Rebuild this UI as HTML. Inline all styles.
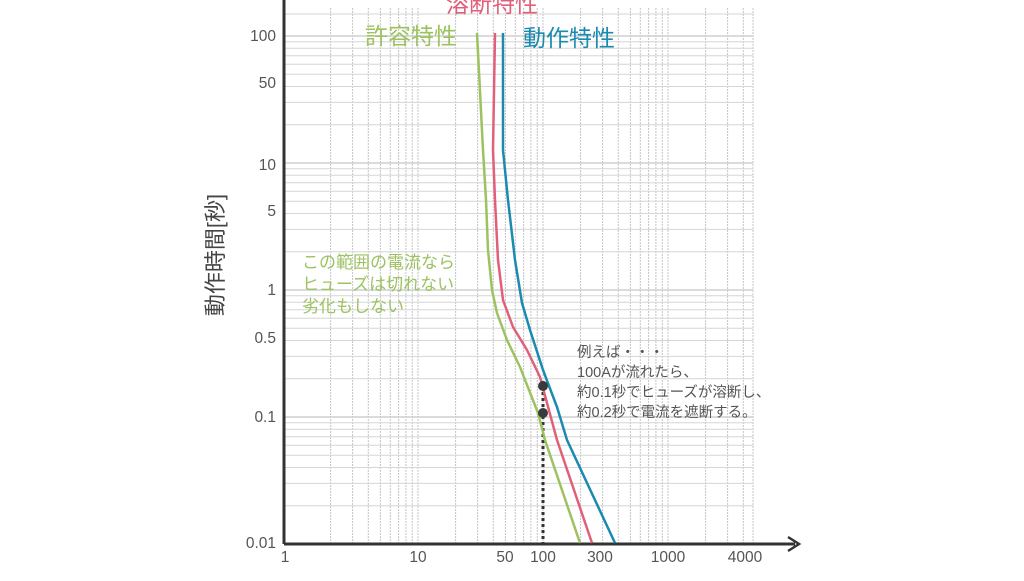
<!DOCTYPE html>
<html><head><meta charset="utf-8"><style>
html,body{margin:0;padding:0;background:#fff;}
svg text{font-family:"Liberation Sans","Noto Sans CJK JP",sans-serif;}
</style></head><body>
<svg width="1024" height="576" viewBox="0 0 1024 576" xmlns="http://www.w3.org/2000/svg">
<path d="M330.6,8V543M352.6,8V543M368.3,8V543M380.4,8V543M390.3,8V543M398.6,8V543M405.9,8V543M412.3,8V543M418,8V543
M455.6,8V543M477.6,8V543M493.3,8V543M505.4,8V543M515.3,8V543M523.6,8V543M530.9,8V543M537.3,8V543M543,8V543
M580.6,8V543M602.6,8V543M618.3,8V543M630.4,8V543M640.3,8V543M648.6,8V543M655.9,8V543M662.3,8V543M668,8V543
M705.6,8V543M727.6,8V543M743.3,8V543M753,8V543" stroke="#c4c4c4" stroke-width="1" stroke-dasharray="2,1" fill="none"/>
<path d="M284,505.8H753M284,483.4H753M284,467.5H753M284,455.2H753M284,445.2H753M284,436.7H753M284,429.3H753M284,422.8H753
M284,378.8H753M284,356.4H753M284,340.5H753M284,328.2H753M284,318.2H753M284,309.7H753M284,302.3H753M284,295.8H753
M284,251.8H753M284,229.4H753M284,213.5H753M284,201.2H753M284,191.2H753M284,182.7H753M284,175.3H753M284,168.8H753
M284,124.8H753M284,102.4H753M284,86.5H753M284,74.2H753M284,64.2H753M284,55.7H753M284,48.3H753M284,41.8H753
M284,14H753" stroke="#d6d6d6" stroke-width="1" fill="none"/>
<path d="M284,417H753M284,290H753M284,163H753M284,36H753" stroke="#cfcfcf" stroke-width="1.6" fill="none"/>
<line x1="284" y1="0" x2="284" y2="544" stroke="#333" stroke-width="3"/>
<line x1="284" y1="544" x2="795" y2="544" stroke="#333" stroke-width="3"/>
<polyline points="788,537 799,544 788,551" fill="none" stroke="#333" stroke-width="2.5"/>
<g font-size="15.5" fill="#555" text-anchor="end">
<text x="276" y="41">100</text><text x="276" y="88">50</text><text x="276" y="170">10</text>
<text x="276" y="216">5</text><text x="276" y="295">1</text><text x="276" y="343">0.5</text>
<text x="276" y="422">0.1</text><text x="276" y="548">0.01</text></g>
<g font-size="15.5" fill="#555" text-anchor="middle">
<text x="285" y="562">1</text><text x="418" y="562">10</text><text x="505" y="562">50</text>
<text x="543" y="562">100</text><text x="600" y="562">300</text><text x="668" y="562">1000</text><text x="745" y="562">4000</text></g>
<text transform="translate(223,255) rotate(-90)" font-size="22" fill="#444" text-anchor="middle">動作時間[秒]</text>
<line x1="543" y1="386" x2="543" y2="543" stroke="#333" stroke-width="3" stroke-dasharray="3,3"/>
<path d="M477,33 L483,150 L486,200 L488,250 L492,290 L497,313 L507,340 L520,367 L538,413 L545,440 L580,543" fill="none" stroke="#9dc260" stroke-width="2.5" stroke-linejoin="round"/>
<path d="M495,33 L493,150 L495,200 L498,260 L503,300 L513,327 L527,350 L540,377 L557,440 L592,543" fill="none" stroke="#e0607a" stroke-width="2.5" stroke-linejoin="round"/>
<path d="M503,33 L503,150 L508,200 L515,260 L522,303 L530,330 L543,370 L557,407 L567,440 L615,543" fill="none" stroke="#1b8ab0" stroke-width="2.5" stroke-linejoin="round"/>
<circle cx="543" cy="386" r="5" fill="#3a3a3a"/><circle cx="543" cy="413" r="5" fill="#3a3a3a"/>
<text x="446" y="12" font-size="23" fill="#e0607a">溶断特性</text>
<text x="365" y="44" font-size="23" fill="#9dc260">許容特性</text>
<text x="523" y="46" font-size="23" fill="#1b8ab0">動作特性</text>
<g font-size="17" fill="#9dc260"><text x="302" y="268">この範囲の電流なら</text><text x="302" y="290">ヒューズは切れない</text><text x="302" y="312">劣化もしない</text></g>
<g font-size="14.5" fill="#555"><text x="577" y="357">例えば・・・</text><text x="577" y="377">100Aが流れたら、</text><text x="577" y="397">約0.1秒でヒューズが溶断し、</text><text x="577" y="417">約0.2秒で電流を遮断する。</text></g>
</svg>
</body></html>
